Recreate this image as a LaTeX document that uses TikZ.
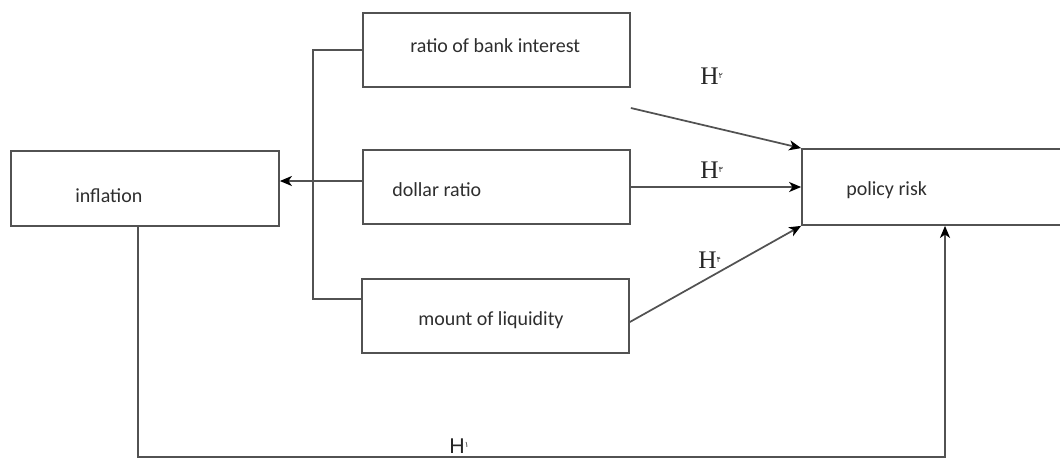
\documentclass[tikz,border=0pt]{standalone}
\usepackage{fontspec}
\setmainfont{Carlito}
\newfontfamily\hserif{Liberation Serif}
\newfontfamily\hsans{Liberation Sans}
\newfontfamily\digitfont[Script=Arabic]{DejaVu Sans}
\usetikzlibrary{arrows.meta,calc}
\newcommand{\hnum}[1]{\raisebox{0.45ex}{\digitfont\fontsize{6}{6}\selectfont #1}}
\tikzset{
  box/.style={draw=black!68, line width=1.3pt, minimum width=200.25pt, minimum height=56pt, inner sep=0pt},
  lbl/.style={font=\fontsize{15}{18}\selectfont, text=black!82, inner sep=0pt},
  link/.style={draw=black!68, line width=1.3pt},
  arr/.style={link, -{Stealth[length=9pt, width=7.5pt, inset=2.5pt, color=black]}},
  hyp/.style={font=\hserif\fontsize{19}{22}\selectfont, text=black!85, inner sep=0pt}
}

\begin{document}
\begin{tikzpicture}[x=0.75pt, y=-0.75pt]
			%%%%% START %%%%%
			\useasboundingbox (0,0) rectangle (1060,458);
			
			% boxes
			\node[box, minimum width=201pt] (infl) at (145,188.5) {};
			\node[box] (bank) at (496.5,50) {};
			\node[box, minimum height=55.5pt] (dollar) at (496.5,187) {};
			\node[box, minimum height=55.5pt] (mount) at (495.5,316) {};
			\node[box, minimum width=204.75pt, minimum height=57pt] (policy) at (938.5,187) {};
			
			% box texts
			\node[lbl, anchor=base west] (infltxt) at (75,202) {inflation};
			\node[lbl, anchor=base west] (banktxt) at (410,52) {ratio of bank interest};
			\node[lbl, anchor=base west] (dollartxt) at (392,196) {dollar ratio};
			\node[lbl, anchor=base west] (mounttxt) at (418,325) {mount of liquidity};
			\node[lbl, anchor=base west] (policytxt) at (846,195) {policy risk};
			
			% bracket on the left of the three middle boxes
			\coordinate (brk) at (313,299);
			\draw[link] (bank.west) -| (brk) -- (brk -| mount.west);
			\draw[arr] ($(dollar.west)+(0,-6)$) -- ($(infl.east)+(0,-7.5)$);
			
			% hypotheses
			\draw[arr] ($(bank.east)+(0,58)$) -- (policy.north west);
			\draw[arr] (dollar.east) -- (policy.west);
			\draw[arr] ($(mount.east)+(0,6)$) -- (policy.south west);
			
			\coordinate (loopL) at (138,457);
			\coordinate (loopR) at (945,457);
			\draw[arr] (loopL |- infl.south) -- (loopL) -- (loopR) -- (loopR |- policy.south);
			
			\node[hyp, anchor=base west] (h2) at (700,84) {H\hnum{۲}};
			\node[hyp, anchor=base west] (h3) at (700,178) {H\hnum{۳}};
			\node[hyp, anchor=base west] (h4) at (698,268) {H\hnum{۴}};
			\node[hyp, font=\hsans\fontsize{16}{19}\selectfont, anchor=base west] (h1) at (449,453) {H\hnum{۱}};
			%%%%% END %%%%%
\end{tikzpicture}
\end{document}
